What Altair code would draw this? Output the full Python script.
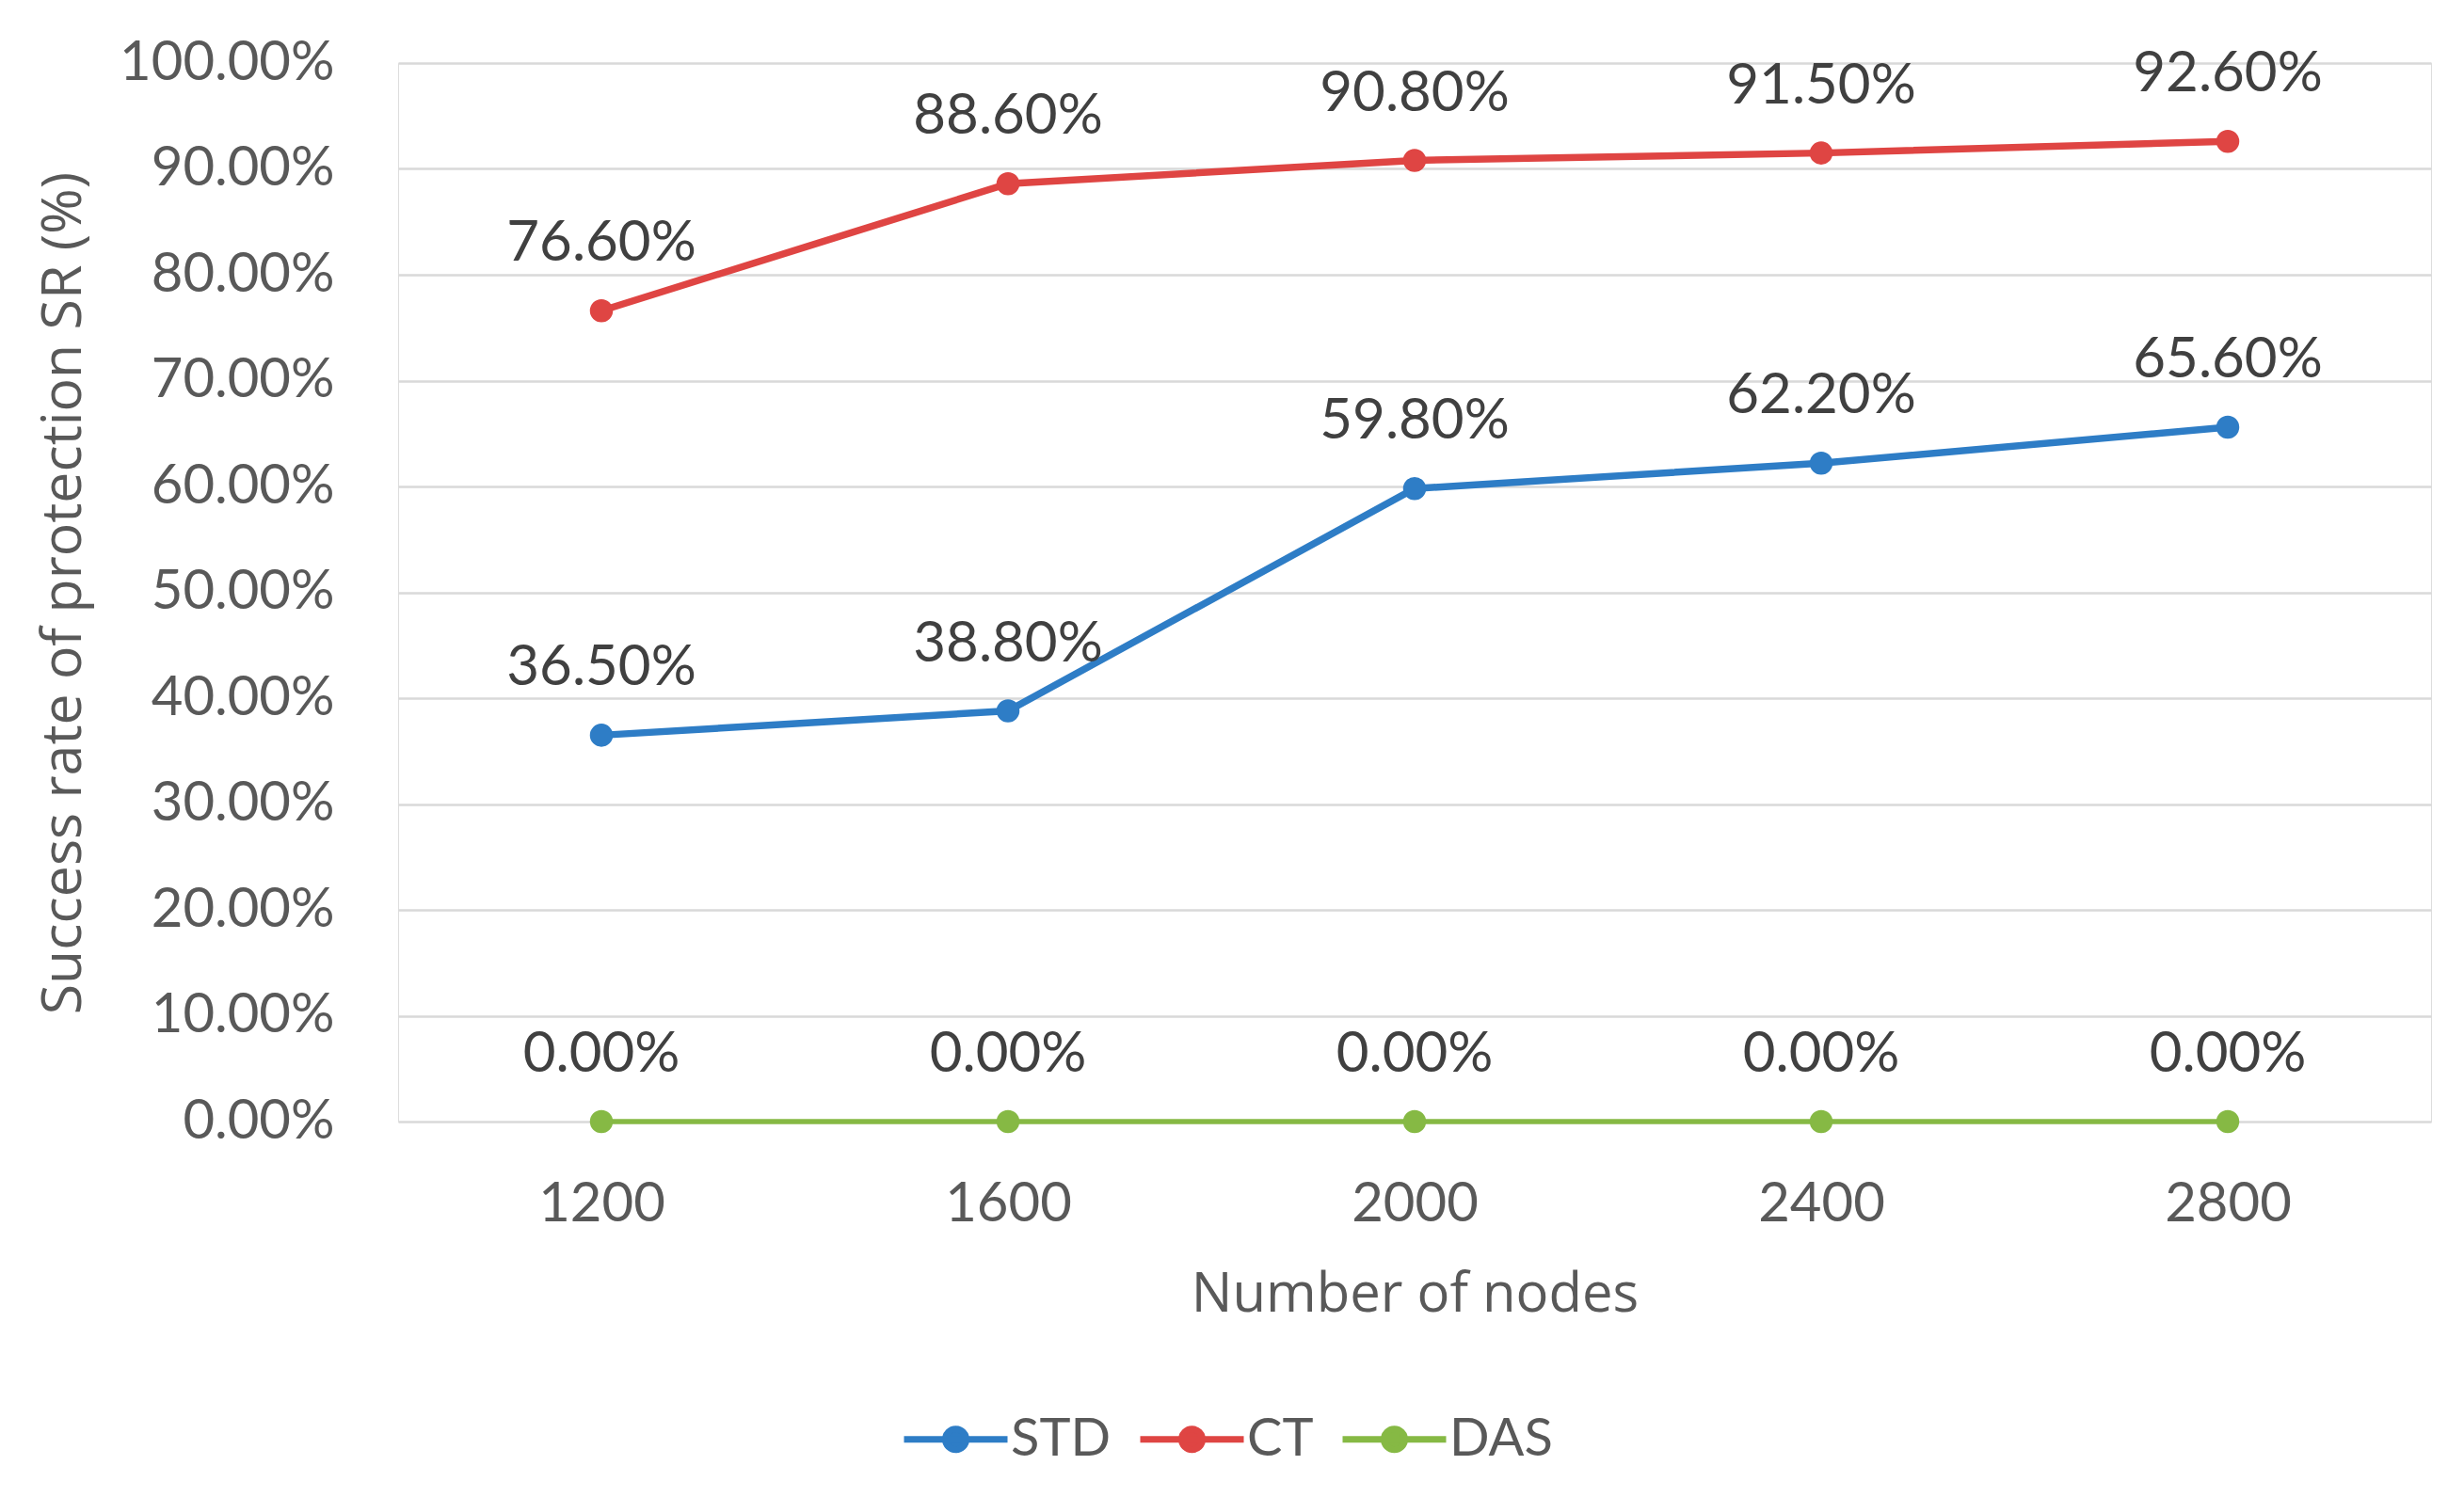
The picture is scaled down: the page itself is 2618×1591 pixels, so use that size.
import altair as alt
import pandas as pd

nodes = ["1200", "1600", "2000", "2400", "2800"]
series_names = ["STD", "CT", "DAS"]
std_vals = [0.365, 0.388, 0.598, 0.622, 0.656]
ct_vals = [0.766, 0.886, 0.908, 0.915, 0.926]
das_vals = [0.0, 0.0, 0.0, 0.0, 0.0]
y_ticks = [0, 0.1, 0.2, 0.3, 0.4, 0.5, 0.6, 0.7, 0.8, 0.9, 1.0]
colors = ["#2E7DC6", "#DF4543", "#86B944"]

rows = []
for name, vals in zip(series_names, [std_vals, ct_vals, das_vals]):
    for n, v in zip(nodes, vals):
        rows.append({"nodes": n, "value": v, "series": name})
df = pd.DataFrame(rows)

FONT = "Lato"
TFONT = "Open Sans"
color_scale = alt.Scale(domain=series_names, range=colors)

x = alt.X("nodes:N", sort=nodes, scale=alt.Scale(type="point", padding=0.5),
          axis=alt.Axis(title="Number of nodes", labelAngle=0, labelFontSize=58,
                        labelColor="#595959", labelFont=FONT, labelPadding=59,
                        ticks=False, domain=False, grid=False,
                        titleFontSize=58, titleFont=TFONT, titleColor="#595959",
                        titleFontWeight="normal", titlePadding=38))
y = alt.Y("value:Q", scale=alt.Scale(domain=[0, 1]),
          axis=alt.Axis(title="Success rate of protection SR (%)", values=y_ticks,
                        format=".2%", labelFontSize=58, labelFont=FONT, labelLimit=0,
                        labelColor="#595959", labelPadding=68, ticks=False,
                        domain=False, grid=True, gridColor="#D9D9D9", gridWidth=2.5,
                        titleFontSize=59, titleFont=TFONT, titleColor="#595959",
                        titleFontWeight="normal", titleX=-356, titleY=563,
                        titleAngle=270, titleAlign="center", titleBaseline="middle"))

color = alt.Color("series:N", sort=series_names, scale=color_scale,
                  legend=alt.Legend(title=None, orient="none", direction="horizontal",
                                    legendX=534, legendY=1404,
                                    symbolType="M-1,0L1,0M-0.2,0A0.2,0.2,0,1,1,0.2,0A0.2,0.2,0,1,1,-0.2,0Z",
                                    symbolSize=12100, symbolStrokeWidth=7,
                                    labelFontSize=56, labelFont=FONT, labelColor="#595959",
                                    labelOffset=0, columnPadding=16))

base = alt.Chart(df)
main = base.transform_filter(alt.datum.series != "DAS")
das = base.transform_filter(alt.datum.series == "DAS")

lines_main = main.mark_line(strokeWidth=7.5).encode(x=x, y=y, color=color)
lines_das = das.mark_line(strokeWidth=5.5).encode(x=x, y=y, color=color)
points_main = main.mark_point(filled=True, opacity=1, shape="circle", size=600).encode(x=x, y=y, color=color)
points_das = das.mark_point(filled=True, opacity=1, shape="circle", size=600).encode(x=x, y=y, color=color)
labels = base.mark_text(dy=-53, baseline="alphabetic", align="center", fontSize=60,
                        font=FONT, color="#404040").encode(
    x=x, y=y, text=alt.Text("value:Q", format=".2%"))

chart = alt.layer(lines_main, lines_das, points_main, points_das, labels).properties(
    width=2160, height=1125,
    autosize=alt.AutoSizeParams(type="none"),
    padding={"left": 415, "top": 59, "right": 27, "bottom": 391},
).configure_view(stroke=None).configure(background="white")

chart.save("out.html", embed_options={"renderer": "svg", "actions": False})
